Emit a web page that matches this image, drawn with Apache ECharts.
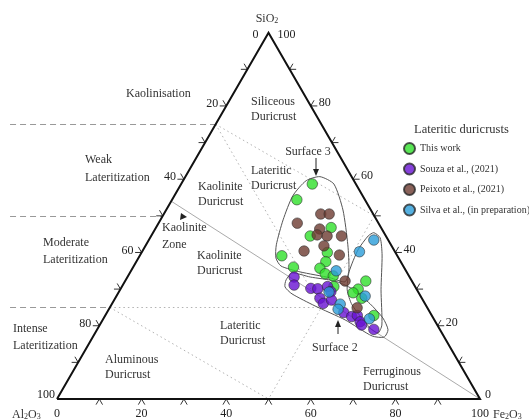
<!DOCTYPE html>
<html>
<head>
<meta charset="utf-8">
<script src="https://cdn.jsdelivr.net/npm/echarts@6/dist/echarts.min.js"></script>
<style>
html, body { margin: 0; padding: 0; background: #fff; }
#chart { width: 529px; height: 419px; }
</style>
</head>
<body>
<div id="chart"></div>
<script>
// compositions as [SiO2, Fe2O3] in %, Al2O3 = 100 - SiO2 - Fe2O3
const thisWork = [
  [58.7, 31.0], [54.4, 29.5], [46.8, 41.4], [44.5, 37.6], [40.0, 43.9], [39.1, 33.6],
  [36.0, 37.9], [37.5, 44.8], [35.7, 44.3], [34.2, 46.3], [33.6, 48.5], [30.7, 50.1],
  [32.2, 56.9], [30.0, 56.2], [29.0, 55.5], [27.5, 58.3], [22.8, 63.5]
];
const souza = [
  [33.3, 39.4], [31.1, 40.5], [30.2, 44.9], [30.1, 46.6], [30.7, 48.6], [29.3, 50.1],
  [27.5, 48.4], [26.1, 49.9], [27.0, 51.4], [23.6, 56.0], [22.5, 58.4], [22.8, 59.6],
  [21.1, 61.1], [20.2, 61.9], [19.0, 65.4]
];
const peixoto = [
  [50.5, 37.1], [50.5, 39.1], [48.0, 32.8], [46.4, 38.9], [44.8, 39.1], [44.5, 41.6],
  [41.8, 42.2], [44.5, 45.0], [40.4, 38.2], [39.3, 47.1], [32.2, 52.0], [24.9, 58.5]
];
const silva = [
  [43.4, 53.2], [40.2, 51.4], [35.0, 48.5], [29.2, 49.7], [25.9, 54.0], [24.5, 54.2],
  [28.1, 58.8], [21.9, 62.9]
];

// outlines of the sample fields, [SiO2, Fe2O3]
const surface3 = [
  [60.7, 31.8], [59.6, 29.1], [55.5, 28.0], [48.9, 29.0], [42.1, 30.8], [38.5, 32.5],
  [36.3, 34.8], [34.7, 40.1], [33.1, 48.0], [32.0, 52.1], [35.2, 51.4], [42.1, 47.7],
  [51.6, 41.8], [58.7, 36.1]
];
const surface2 = [
  [32.5, 37.9], [34.4, 38.4], [33.3, 43.2], [32.2, 49.6], [30.1, 54.7], [26.0, 61.0],
  [22.1, 66.0], [18.9, 68.8], [16.9, 68.9], [17.2, 65.9], [21.6, 57.3], [25.4, 48.3],
  [28.7, 41.2], [30.6, 38.6]
];
const silvaField = [
  [45.4, 52.2], [44.0, 54.4], [39.3, 57.2], [29.8, 61.7], [20.2, 66.7], [18.0, 66.9],
  [19.4, 64.3], [25.7, 56.9], [29.8, 53.7], [34.7, 51.7], [40.7, 50.8], [44.5, 51.3]
];

// field boundaries, pairs of [SiO2, Fe2O3]
const dottedLines = [
  [[75, 0], [50, 50]],
  [[75, 0], [25, 50]],
  [[50, 50], [0, 50]],
  [[25, 0], [25, 50]],
  [[25, 0], [0, 50]]
];
const kaoliniteLine = [[54, 0], [0, 100]];
const lateritizationLevels = [75, 50, 25];

const tickSteps = [10, 20, 30, 40, 50, 60, 70, 80, 90];
const sideLabels = [20, 40, 60, 80];
const baseLabels = [0, 20, 40, 60, 80, 100];

const SQ = Math.sqrt(3) / 2;
function tern(si, fe) { return [fe + si / 2, si * SQ]; }

const serif = "'Liberation Serif', 'Times New Roman', serif";
const ink = '#333';

// ticks: [x, y, side]  side 0 bottom, 1 left, 2 right
const tickData = [];
tickSteps.forEach(v => {
  tickData.push(tern(0, v).concat(0));
  tickData.push(tern(v, 0).concat(1));
  tickData.push(tern(v, 100 - v).concat(2));
});
const legAngles = [[120, 60], [240, 180], [0, 300]];

// tick label texts
const tickText = [];
sideLabels.forEach(v => {
  tickText.push({ pos: tern(100 - v, 0), text: String(v), dx: -8, dy: -2, align: 'right' });
  tickText.push({ pos: tern(v, 100 - v), text: String(v), dx: 8, dy: -3, align: 'left' });
});
baseLabels.forEach(v => {
  tickText.push({ pos: tern(0, v), text: String(v), dx: 0, dy: 15, align: 'center' });
});
tickText.push({ pos: tern(100, 0), text: '0', dx: -10, dy: 2, align: 'right' });
tickText.push({ pos: tern(100, 0), text: '100', dx: 9, dy: 2, align: 'left' });
tickText.push({ pos: tern(0, 0), text: '100', dx: -2, dy: -4, align: 'right' });
tickText.push({ pos: tern(0, 100), text: '0', dx: 5, dy: -4, align: 'left' });

const envelopes = [surface3, surface2, silvaField];

function txt(x, y, text, opts) {
  return {
    type: 'text', x: x, y: y, silent: true,
    style: Object.assign({
      text: text, font: '12px ' + serif, fill: ink,
      align: 'left', verticalAlign: 'middle'
    }, opts || {})
  };
}
function chem(x, y, parts, align) {
  return {
    type: 'text', x: x, y: y, silent: true,
    style: {
      text: parts, align: align || 'left', verticalAlign: 'middle', fill: ink,
      rich: {
        n: { fontSize: 12, fontFamily: serif, lineHeight: 14, verticalAlign: 'bottom', fill: ink },
        s: { fontSize: 8, fontFamily: serif, lineHeight: 6, verticalAlign: 'bottom', fill: ink }
      }
    }
  };
}
function arrow(x, y1, y2) {
  const dir = y2 > y1 ? 1 : -1;
  return [
    { type: 'line', silent: true, shape: { x1: x, y1: y1, x2: x, y2: y2 - dir * 5 }, style: { stroke: '#222', lineWidth: 1 } },
    { type: 'polygon', silent: true, shape: { points: [[x - 3, y2 - dir * 7], [x + 3, y2 - dir * 7], [x, y2]] }, style: { fill: '#222' } }
  ];
}

const chart = echarts.init(document.getElementById('chart'));

const scatterStyle = (color) => ({ color: color, borderColor: '#2a2a2a', borderWidth: 0.7 });

chart.setOption({
  animation: false,
  grid: { left: 0, right: 0, top: 0, bottom: 0 },
  xAxis: { type: 'value', min: -13.475, max: 111.58, show: false },
  yAxis: { type: 'value', min: -4.728, max: 94.33, show: false },
  legend: {
    orient: 'vertical', left: 403, top: 142, padding: 0,
    itemWidth: 11, itemHeight: 11, itemGap: 7.5, icon: 'circle',
    textStyle: { fontFamily: serif, fontSize: 10, color: ink },
    data: ['This work', 'Souza et al., (2021)', 'Peixoto et al., (2021)', 'Silva et al., (in preparation)']
  },
  graphic: [
    chem(267, 18, '{n|SiO}{s|2}', 'center'),
    chem(12, 414, '{n|Al}{s|2}{n|O}{s|3}'),
    chem(493, 414, '{n|Fe}{s|2}{n|O}{s|3}'),
    txt(414, 130, 'Lateritic duricrusts', { font: '12.5px ' + serif }),
    txt(126, 94, 'Kaolinisation'),
    txt(85, 160, 'Weak'), txt(85, 178, 'Lateritization'),
    txt(43, 243, 'Moderate'), txt(43, 260, 'Lateritization'),
    txt(13, 329, 'Intense'), txt(13, 346, 'Lateritization'),
    txt(251, 102, 'Siliceous'), txt(251, 117, 'Duricrust'),
    txt(251, 171, 'Lateritic'), txt(251, 186, 'Duricrust'),
    txt(198, 187, 'Kaolinite'), txt(198, 202, 'Duricrust'),
    txt(162, 228, 'Kaolinite'), txt(162, 245, 'Zone'),
    txt(197, 256, 'Kaolinite'), txt(197, 271, 'Duricrust'),
    txt(220, 326, 'Lateritic'), txt(220, 341, 'Duricrust'),
    txt(105, 360, 'Aluminous'), txt(105, 375, 'Duricrust'),
    txt(363, 372, 'Ferruginous'), txt(363, 387, 'Duricrust'),
    txt(308, 152, 'Surface 3', { align: 'center' }),
    txt(312, 348, 'Surface 2'),
    { type: 'polygon', silent: true, shape: { points: [[181, 213], [187, 217], [180, 220]] }, style: { fill: '#222' } }
  ].concat(arrow(316, 158, 176), arrow(338, 334, 320)),
  series: [
    {
      type: 'lines', coordinateSystem: 'cartesian2d', silent: true, z: 1,
      lineStyle: { color: ink, width: 1, type: [6, 4] },
      data: lateritizationLevels.map(s => ({ coords: [[-11.1, s * SQ], tern(s, 0)] }))
    },
    {
      type: 'lines', coordinateSystem: 'cartesian2d', silent: true, z: 1,
      lineStyle: { color: '#666', width: 1, type: [1.5, 3] },
      data: dottedLines.map(l => ({ coords: [tern(l[0][0], l[0][1]), tern(l[1][0], l[1][1])] }))
    },
    {
      type: 'lines', coordinateSystem: 'cartesian2d', silent: true, z: 1,
      lineStyle: { color: '#555', width: 1 },
      data: [{ coords: kaoliniteLine.map(p => tern(p[0], p[1])) }]
    },
    {
      type: 'line', silent: true, z: 3, symbol: 'none',
      lineStyle: { color: '#111', width: 2, join: 'miter' },
      data: [tern(0, 0), tern(0, 100), tern(100, 0), tern(0, 0)]
    },
    {
      type: 'custom', silent: true, z: 3,
      encode: { x: 0, y: 1 },
      data: tickData,
      renderItem: (params, api) => {
        const p = api.coord([api.value(0), api.value(1)]);
        const L = 6.5;
        return {
          type: 'group',
          children: legAngles[api.value(2)].map(a => ({
            type: 'line',
            shape: { x1: p[0], y1: p[1], x2: p[0] + L * Math.cos(a * Math.PI / 180), y2: p[1] + L * Math.sin(a * Math.PI / 180) },
            style: { stroke: '#333', lineWidth: 1 }
          }))
        };
      }
    },
    {
      type: 'custom', silent: true, z: 3,
      encode: { x: 0, y: 1 },
      data: tickText.map(t => t.pos),
      renderItem: (params, api) => {
        const t = tickText[params.dataIndex];
        const p = api.coord([api.value(0), api.value(1)]);
        return {
          type: 'text', x: p[0] + t.dx, y: p[1] + t.dy,
          style: { text: t.text, font: '12px ' + serif, fill: '#222', align: t.align, verticalAlign: 'middle' }
        };
      }
    },
    {
      type: 'custom', silent: true, z: 2,
      encode: { x: 0, y: 1 },
      data: envelopes.map(e => tern(e[0][0], e[0][1])),
      renderItem: (params, api) => {
        const pts = envelopes[params.dataIndex].map(p => api.coord(tern(p[0], p[1])));
        return {
          type: 'polygon',
          shape: { points: pts, smooth: 0.22 },
          style: { fill: 'none', stroke: '#555', lineWidth: 1 }
        };
      }
    },
    {
      name: 'This work', type: 'scatter', z: 5, symbolSize: 10.5,
      itemStyle: scatterStyle('#2fe02a'),
      data: thisWork.map(p => tern(p[0], p[1]))
    },
    {
      name: 'Souza et al., (2021)', type: 'scatter', z: 5, symbolSize: 10.5,
      itemStyle: scatterStyle('#6812d2'),
      data: souza.map(p => tern(p[0], p[1]))
    },
    {
      name: 'Peixoto et al., (2021)', type: 'scatter', z: 5, symbolSize: 10.5,
      itemStyle: scatterStyle('#6d3b31'),
      data: peixoto.map(p => tern(p[0], p[1]))
    },
    {
      name: 'Silva et al., (in preparation)', type: 'scatter', z: 5, symbolSize: 10.5,
      itemStyle: scatterStyle('#2b9cd8'),
      data: silva.map(p => tern(p[0], p[1]))
    }
  ]
});
</script>
</body>
</html>
